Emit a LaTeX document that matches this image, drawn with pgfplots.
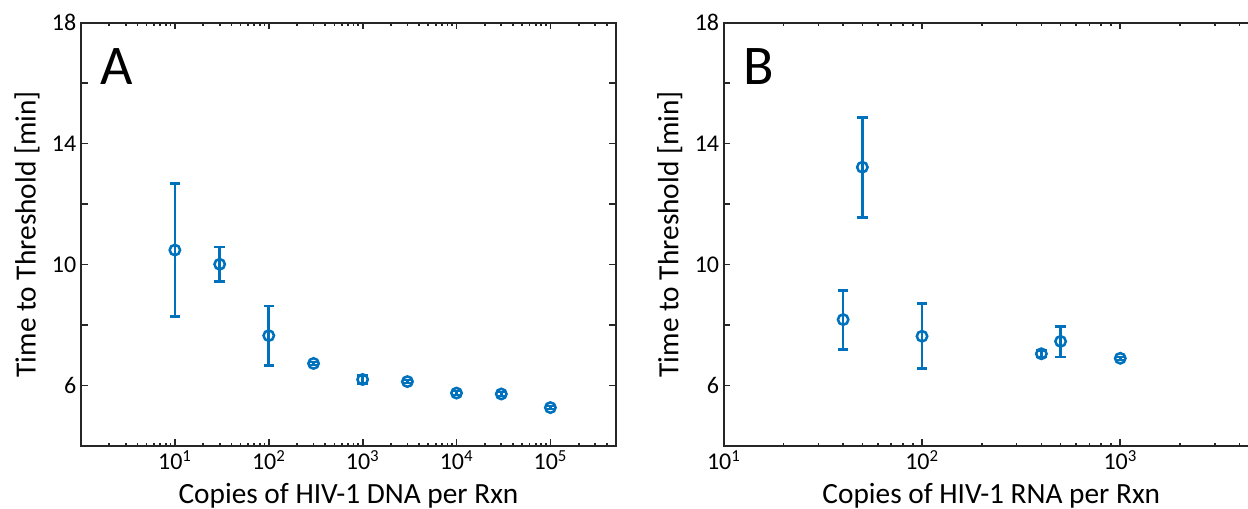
\documentclass[border=0pt]{standalone}
\usepackage{fontspec}
\setmainfont{Carlito}
\usepackage{pgfplots}
\pgfplotsset{compat=1.18}
\definecolor{mblue}{RGB}{0,114,189}
\definecolor{axgray}{RGB}{38,38,38}
\begin{document}
\begin{tikzpicture}
\begin{axis}[at={(60.75pt,47.25pt)}, anchor=south west,
  xmode=log, scale only axis, width=401.25pt, height=317.5pt,
  ymin=4, ymax=18, ytick={6,8,...,18}, yticklabels={6,,10,,14,,18},
  tick align=inside, major tick length=5pt, minor tick length=2.6pt,
  axis line style={axgray, line width=1.5pt},
  tick style={axgray, line width=1.3pt},
  tick label style={font=\fontsize{18}{20}\selectfont, black},
  label style={font=\fontsize{22}{26}\selectfont},
  ylabel style={at={(axis description cs:-0.101,0.5)}, anchor=center},
  xlabel style={at={(axis description cs:0.5,-0.137)}, anchor=base},
  ylabel={Time to Threshold [min]},
  xmin=1, xmax=5e5,
  xtick={10,100,1000,10000,100000},
  xticklabels={10\textsuperscript{1},10\textsuperscript{2},10\textsuperscript{3},10\textsuperscript{4},10\textsuperscript{5}},
  minor xtick={2,3,4,5,6,7,8,9,20,30,40,50,60,70,80,90,200,300,400,500,600,700,800,900,2000,3000,4000,5000,6000,7000,8000,9000,20000,30000,40000,50000,60000,70000,80000,90000,200000,300000,400000},
  xlabel={Copies of HIV-1 DNA per Rxn}]
\addplot[only marks, mark=o, color=mblue, mark size=3.9pt,
   mark options={line width=1.9pt}, line width=1.9pt,
   error bars/.cd, y dir=both, y explicit,
   error bar style={line width=1.9pt, mblue},
   error mark options={rotate=90, mark size=3.9pt, line width=1.9pt, mblue}]
  table[x=x, y=y, y error plus=ep, y error minus=em] {
x y ep em
10 10.48 2.20 2.20
30 10.01 0.57 0.57
100 7.65 0.98 0.99
300 6.73 0.05 0.05
1000 6.20 0.13 0.13
3000 6.13 0.05 0.05
10000 5.75 0.07 0.07
30000 5.72 0.07 0.07
100000 5.27 0.05 0.05
};
\node[anchor=north west, inner sep=0pt, font=\fontsize{42}{44}\selectfont] at (axis description cs:0.036,0.94) {A};
\end{axis}
\begin{axis}[at={(542.85pt,47.25pt)}, anchor=south west,
  xmode=log, scale only axis, width=401.25pt, height=317.5pt,
  ymin=4, ymax=18, ytick={6,8,...,18}, yticklabels={6,,10,,14,,18},
  tick align=inside, major tick length=5pt, minor tick length=2.6pt,
  axis line style={axgray, line width=1.5pt},
  tick style={axgray, line width=1.3pt},
  tick label style={font=\fontsize{18}{20}\selectfont, black},
  label style={font=\fontsize{22}{26}\selectfont},
  ylabel style={at={(axis description cs:-0.101,0.5)}, anchor=center},
  xlabel style={at={(axis description cs:0.5,-0.137)}, anchor=base},
  ylabel={Time to Threshold [min]},
  xmin=10, xmax=5000,
  xtick={10,100,1000},
  xticklabels={10\textsuperscript{1},10\textsuperscript{2},10\textsuperscript{3}},
  minor xtick={20,30,40,50,60,70,80,90,200,300,400,500,600,700,800,900,2000,3000,4000},
  xlabel={Copies of HIV-1 RNA per Rxn}]
\addplot[only marks, mark=o, color=mblue, mark size=3.9pt,
   mark options={line width=1.9pt}, line width=1.9pt,
   error bars/.cd, y dir=both, y explicit,
   error bar style={line width=1.9pt, mblue},
   error mark options={rotate=90, mark size=3.9pt, line width=1.9pt, mblue}]
  table[x=x, y=y, y error plus=ep, y error minus=em] {
x y ep em
40 8.18 0.97 0.98
50 13.22 1.65 1.67
100 7.63 1.08 1.06
400 7.05 0.10 0.10
500 7.46 0.49 0.52
1000 6.90 0.05 0.05
};
\node[anchor=north west, inner sep=0pt, font=\fontsize{42}{44}\selectfont] at (axis description cs:0.036,0.94) {B};
\end{axis}
\pgfresetboundingbox
\useasboundingbox (0,0) rectangle (936pt,381.75pt);
\end{tikzpicture}
\end{document}
